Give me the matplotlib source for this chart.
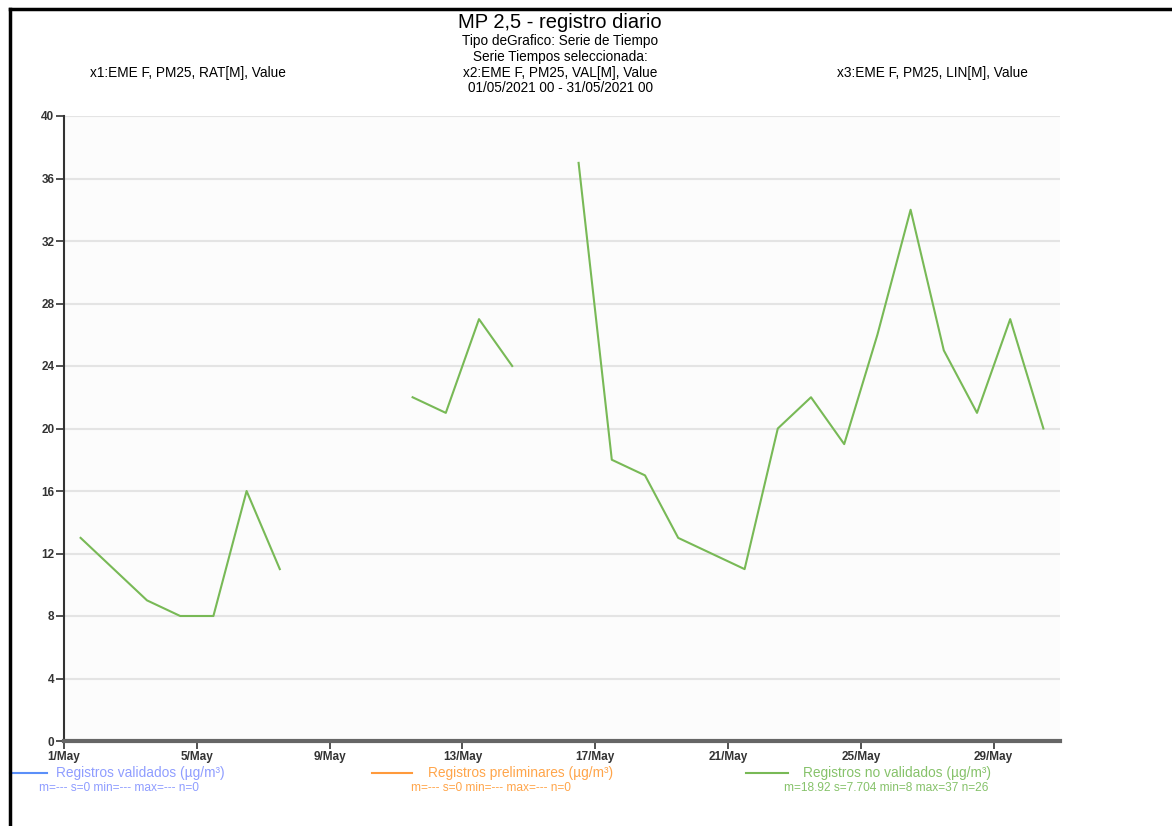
import numpy as np
import pandas as pd
import matplotlib
matplotlib.use("Agg")
import matplotlib.pyplot as plt
import matplotlib.dates as mdates
from matplotlib.lines import Line2D

plt.rcParams['font.family'] = ['Liberation Sans', 'DejaVu Sans']

# daily PM2.5 values, 1 May .. 31 May 2021 (None = no record)
days = pd.date_range("2021-05-01 12:00", periods=31, freq="D")
no_validados = [13, 11, 9, 8, 8, 16, 11, None, None, None,
                22, 21, 27, 24, None, 37, 18, 17, 13, 12,
                11, 20, 22, 19, 26, 34, 25, 21, 27, 20, None]
tick_days = pd.date_range("2021-05-01", "2021-05-29", freq="4D")
y_ticks = [0, 4, 8, 12, 16, 20, 24, 28, 32, 36, 40]

legend_names = ["Registros validados (µg/m³)",
                "Registros preliminares (µg/m³)",
                "Registros no validados (µg/m³)"]
legend_stats = ["m=--- s=0 min=--- max=--- n=0",
                "m=--- s=0 min=--- max=--- n=0",
                "m=18.92 s=7.704 min=8 max=37 n=26"]
line_colors = ["#5b8ff9", "#ff9a3c", "#78b956"]
text_colors = ["#8f9dff", "#ffa54a", "#86c26a"]

fig = plt.figure(figsize=(11.72, 8.26), dpi=100)
ax = fig.add_axes([64 / 1172, 1 - 741 / 826, 996 / 1172, 625 / 826])
ax.set_facecolor("#fcfcfc")

vals = np.array([np.nan if v is None else v for v in no_validados], dtype=float)
ax.plot(days, vals, color=line_colors[2], lw=1.5)

ax.set_xlim(pd.Timestamp("2021-05-01"), pd.Timestamp("2021-05-31"))
ax.set_ylim(0, 40)
ax.set_yticks(y_ticks)
ax.set_xticks(tick_days)
ax.xaxis.set_major_formatter(mdates.DateFormatter("%-d/May"))
ax.grid(axis="y", color="#e4e4e4", lw=1.5)
ax.set_axisbelow(True)
for s in ["top", "right"]:
    ax.spines[s].set_visible(False)
ax.spines["left"].set_color("#333333")
ax.spines["left"].set_linewidth(1.5)
ax.spines["bottom"].set_color("#666666")
ax.spines["bottom"].set_linewidth(3)
ax.tick_params(axis="both", labelsize=8.5, colors="#333333", length=6, width=1.2, pad=1)
for lab in ax.get_xticklabels() + ax.get_yticklabels():
    lab.set_color("#333333")
    lab.set_fontweight("bold")

# header texts
fig.text(560 / 1172, 1 - 22 / 826, "MP 2,5 - registro diario", ha="center", va="center", fontsize=14.5)
fig.text(560 / 1172, 1 - 41 / 826, "Tipo deGrafico: Serie de Tiempo", ha="center", va="center", fontsize=9.8)
fig.text(560 / 1172, 1 - 57 / 826, "Serie Tiempos seleccionada:", ha="center", va="center", fontsize=9.8)
fig.text(560 / 1172, 1 - 73 / 826, "x2:EME F, PM25, VAL[M], Value", ha="center", va="center", fontsize=9.8)
fig.text(560 / 1172, 1 - 88 / 826, "01/05/2021 00 - 31/05/2021 00", ha="center", va="center", fontsize=9.8)
fig.text(188 / 1172, 1 - 73 / 826, "x1:EME F, PM25, RAT[M], Value", ha="center", va="center", fontsize=9.8)
fig.text(932 / 1172, 1 - 73 / 826, "x3:EME F, PM25, LIN[M], Value", ha="center", va="center", fontsize=9.8)

# legend below plot
seg_x = [(10, 47), (372, 412), (746, 788)]
name_x = [140, 521, 897]
stat_x = [119, 491, 886]
for i in range(3):
    fig.add_artist(Line2D([seg_x[i][0] / 1172, seg_x[i][1] / 1172], [1 - 773 / 826] * 2,
                          color=line_colors[i], lw=1.5))
    fig.text(name_x[i] / 1172, 1 - 773 / 826, legend_names[i], ha="center", va="center",
             fontsize=9.9, color=text_colors[i])
    fig.text(stat_x[i] / 1172, 1 - 788 / 826, legend_stats[i], ha="center", va="center",
             fontsize=8.6, color=text_colors[i])

# outer frame (left and top edges)
fig.add_artist(Line2D([10 / 1172, 10 / 1172], [0, 1 - 9 / 826], color="black", lw=2.5))
fig.add_artist(Line2D([10 / 1172, 1], [1 - 9 / 826, 1 - 9 / 826], color="black", lw=2.5))

fig.savefig("out.png", dpi=100)
